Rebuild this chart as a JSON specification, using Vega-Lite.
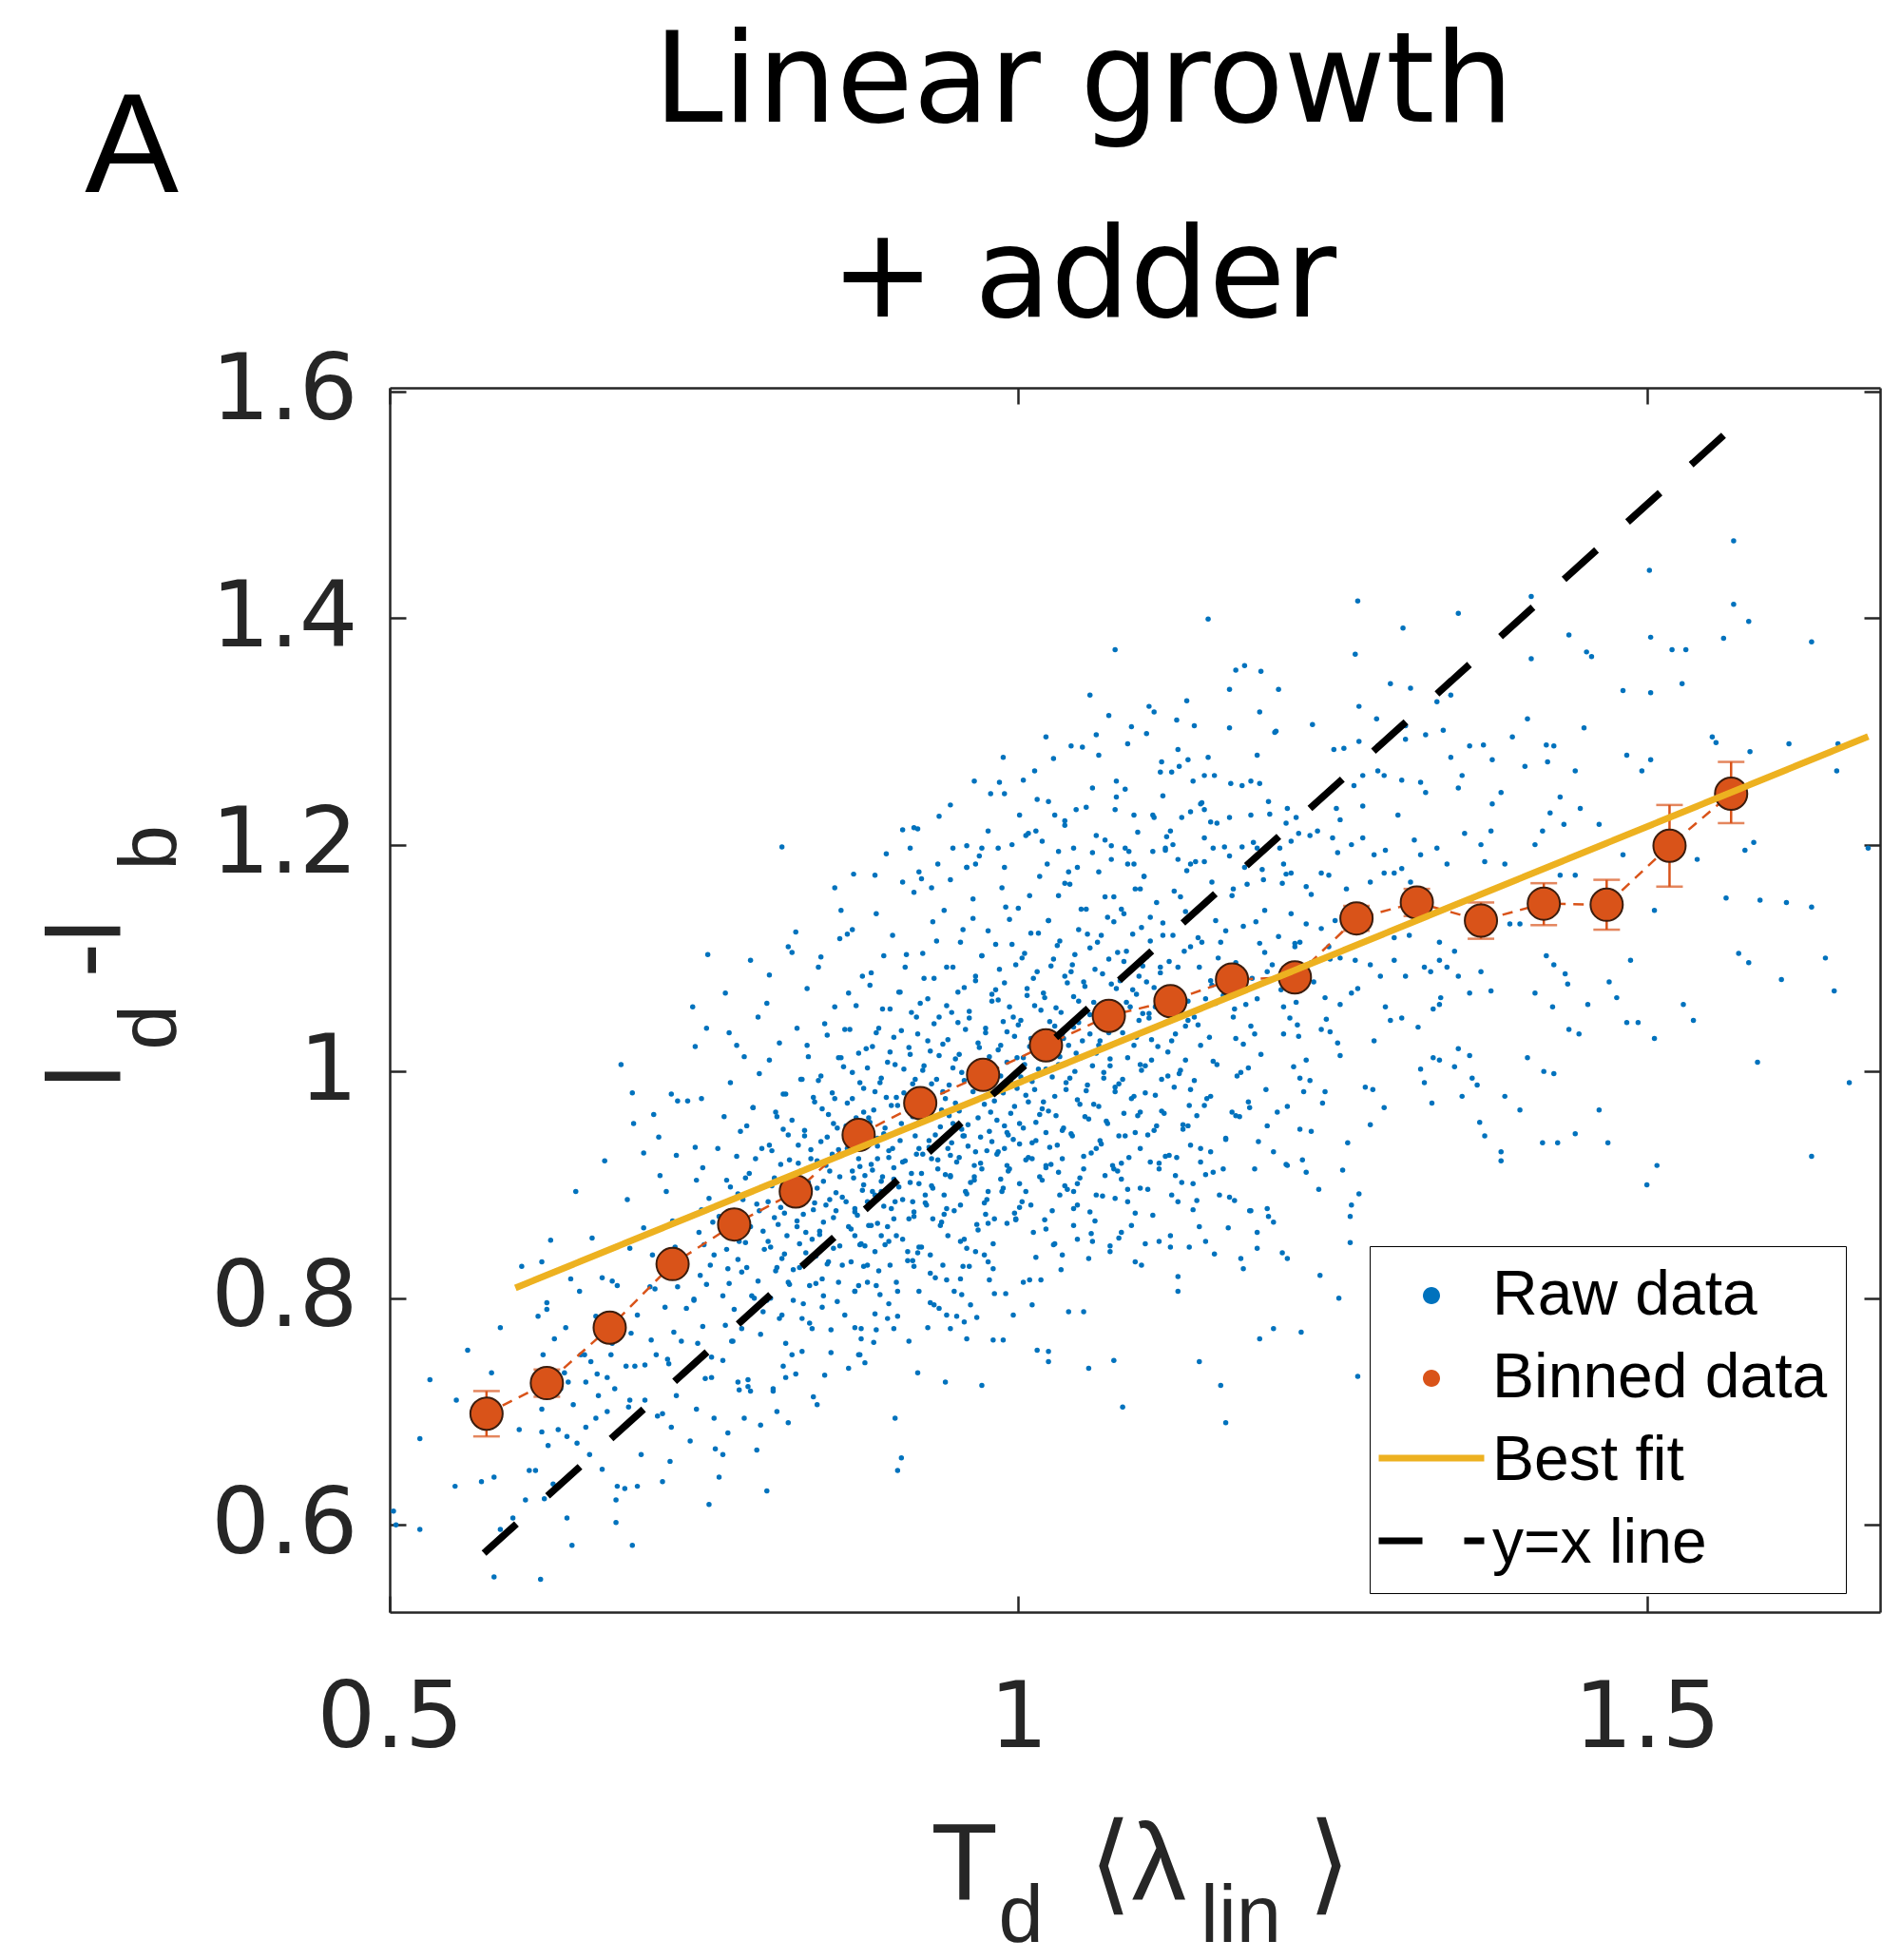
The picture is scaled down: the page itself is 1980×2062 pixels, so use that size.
{
"$schema": "https://vega.github.io/schema/vega-lite/v6.json",
"width": 1568,
"height": 1288,
"autosize": {"type": "none"},
"padding": {"left": 410, "top": 408, "right": 2, "bottom": 366},
"background": "white",
"config": {"view": {"stroke": null}, "font": "Liberation Sans"},
"title": {"text": ["Linear growth", "+ adder"], "font": "DejaVu Sans", "fontSize": 131, "fontWeight": "normal", "color": "#000000", "anchor": "middle", "frame": "group", "dx": -54, "dy": 381, "offset": 0, "baseline": "alphabetic", "lineHeight": 205},
"datasets": {
"raw": [
{"x":0.503,"y":0.612},{"x":0.505,"y":0.600},{"x":0.524,"y":0.676},{"x":0.524,"y":0.596},{"x":0.532,"y":0.728},{"x":0.553,"y":0.710},{"x":0.552,"y":0.634},{"x":0.562,"y":0.754},{"x":0.573,"y":0.638},{"x":0.581,"y":0.734},{"x":0.583,"y":0.642},{"x":0.583,"y":0.554},{"x":0.588,"y":0.774},{"x":0.588,"y":0.596},{"x":0.598,"y":0.606},{"x":0.603,"y":0.684},{"x":0.605,"y":0.828},{"x":0.608,"y":0.622},{"x":0.611,"y":0.648},{"x":0.616,"y":0.648},{"x":0.618,"y":0.784},{"x":0.620,"y":0.552},{"x":0.621,"y":0.832},{"x":0.625,"y":0.796},{"x":0.621,"y":0.702},{"x":0.626,"y":0.670},{"x":0.631,"y":0.764},{"x":0.630,"y":0.636},{"x":0.634,"y":0.684},{"x":0.639,"y":0.734},{"x":0.641,"y":0.678},{"x":0.645,"y":0.582},{"x":0.646,"y":0.706},{"x":0.649,"y":0.672},{"x":0.651,"y":0.806},{"x":0.652,"y":0.750},{"x":0.656,"y":0.726},{"x":0.659,"y":0.662},{"x":0.660,"y":0.744},{"x":0.664,"y":0.694},{"x":0.666,"y":0.714},{"x":0.669,"y":0.818},{"x":0.673,"y":0.730},{"x":0.676,"y":0.750},{"x":0.679,"y":0.720},{"x":0.680,"y":0.622},{"x":0.680,"y":0.602},{"x":0.681,"y":0.634},{"x":0.684,"y":1.006},{"x":0.691,"y":0.710},{"x":0.693,"y":0.582},{"x":0.694,"y":0.954},{"x":0.695,"y":0.740},{"x":0.697,"y":0.634},{"x":0.700,"y":0.662},{"x":0.702,"y":0.928},{"x":0.703,"y":0.710},{"x":0.707,"y":0.810},{"x":0.712,"y":0.750},{"x":0.714,"y":0.942},{"x":0.717,"y":0.698},{"x":0.722,"y":0.742},{"x":0.724,"y":0.686},{"x":0.729,"y":0.974},{"x":0.732,"y":0.762},{"x":0.737,"y":0.974},{"x":0.739,"y":0.674},{"x":0.742,"y":0.798},{"x":0.743,"y":1.022},{"x":0.744,"y":0.702},{"x":0.752,"y":1.038},{"x":0.753,"y":1.103},{"x":0.754,"y":0.618},{"x":0.756,"y":0.730},{"x":0.758,"y":0.694},{"x":0.762,"y":0.642},{"x":0.765,"y":0.662},{"x":0.767,"y":1.069},{"x":0.770,"y":1.034},{"x":0.772,"y":0.762},{"x":0.777,"y":0.726},{"x":0.782,"y":0.694},{"x":0.787,"y":0.718},{"x":0.792,"y":0.666},{"x":0.800,"y":0.630},{"x":0.802,"y":1.085},{"x":0.805,"y":0.718},{"x":0.815,"y":0.730},{"x":0.817,"y":0.690},{"x":0.820,"y":1.105},{"x":0.820,"y":0.750},{"x":0.828,"y":0.782},{"x":0.840,"y":0.706},{"x":0.843,"y":1.101},{"x":0.845,"y":0.802},{"x":0.858,"y":1.117},{"x":0.865,"y":0.738},{"x":0.868,"y":1.125},{"x":0.870,"y":0.774},{"x":0.873,"y":0.750},
{"x":0.812,"y":1.198},{"x":0.854,"y":1.162},{"x":0.886,"y":1.173},{"x":0.920,"y":1.214},{"x":1.270,"y":0.731},{"x":1.240,"y":0.820},{"x":1.255,"y":0.800},{"x":1.225,"y":0.770},{"x":1.210,"y":0.840},{"x":1.676,"y":1.197},
{"x":1.270,"y":1.415},{"x":1.268,"y":1.368},{"x":1.306,"y":1.391},{"x":1.350,"y":1.404},{"x":1.408,"y":1.419},{"x":1.408,"y":1.364},{"x":1.438,"y":1.385},{"x":1.452,"y":1.370},{"x":1.456,"y":1.366},{"x":1.502,"y":1.442},{"x":1.503,"y":1.383},{"x":1.520,"y":1.372},{"x":1.531,"y":1.372},{"x":1.569,"y":1.468},{"x":1.569,"y":1.412},{"x":1.561,"y":1.382},{"x":1.581,"y":1.397},{"x":1.631,"y":1.379},{"x":1.481,"y":1.336},{"x":1.503,"y":1.334},{"x":1.528,"y":1.342},{"x":1.296,"y":1.342},{"x":1.312,"y":1.338},{"x":1.333,"y":1.326},{"x":1.344,"y":1.332},{"x":1.271,"y":1.322},{"x":1.285,"y":1.311},{"x":1.308,"y":1.305},{"x":1.324,"y":1.297},{"x":1.338,"y":1.301},{"x":1.405,"y":1.311},{"x":1.393,"y":1.295},{"x":1.450,"y":1.303},{"x":1.259,"y":1.285},{"x":1.271,"y":1.291},{"x":1.286,"y":1.287},{"x":1.308,"y":1.293},{"x":1.344,"y":1.277},{"x":1.359,"y":1.287},{"x":1.370,"y":1.288},{"x":1.377,"y":1.275},{"x":1.403,"y":1.269},{"x":1.420,"y":1.288},{"x":1.426,"y":1.287},{"x":1.421,"y":1.273},{"x":1.443,"y":1.265},{"x":1.484,"y":1.279},{"x":1.496,"y":1.265},{"x":1.503,"y":1.275},{"x":1.552,"y":1.295},{"x":1.555,"y":1.290},{"x":1.582,"y":1.282},{"x":1.613,"y":1.289},{"x":1.652,"y":1.289},{"x":1.651,"y":1.265},{"x":1.286,"y":1.265},{"x":1.267,"y":1.252},{"x":1.274,"y":1.261},{"x":1.291,"y":1.261},{"x":1.305,"y":1.257},{"x":1.320,"y":1.255},{"x":1.324,"y":1.246},{"x":1.350,"y":1.250},{"x":1.353,"y":1.261},{"x":1.384,"y":1.246},{"x":1.377,"y":1.236},{"x":1.431,"y":1.242},{"x":1.447,"y":1.232},{"x":1.462,"y":1.218},{"x":1.434,"y":1.218},{"x":1.423,"y":1.228},{"x":1.411,"y":1.200},{"x":1.417,"y":1.212},{"x":1.253,"y":1.232},{"x":1.256,"y":1.222},{"x":1.274,"y":1.234},{"x":1.302,"y":1.226},{"x":1.214,"y":1.232},{"x":1.221,"y":1.224},{"x":1.232,"y":1.208},{"x":1.238,"y":1.212},{"x":1.250,"y":1.206},{"x":1.265,"y":1.200},{"x":1.274,"y":1.206},{"x":1.283,"y":1.191},{"x":1.292,"y":1.195},{"x":1.305,"y":1.179},{"x":1.315,"y":1.204},{"x":1.320,"y":1.191},{"x":1.333,"y":1.197},{"x":1.341,"y":1.183},{"x":1.355,"y":1.210},{"x":1.368,"y":1.200},{"x":1.376,"y":1.212},{"x":1.371,"y":1.185},{"x":1.387,"y":1.183},{"x":1.431,"y":1.173},{"x":1.443,"y":1.173},{"x":1.481,"y":1.191},{"x":1.506,"y":1.142},{"x":1.540,"y":1.187},{"x":1.578,"y":1.195},{"x":1.585,"y":1.202},{"x":1.563,"y":1.153},{"x":1.590,"y":1.151},{"x":1.611,"y":1.149},{"x":1.631,"y":1.145},{"x":1.211,"y":1.183},{"x":1.217,"y":1.175},{"x":1.229,"y":1.163},{"x":1.241,"y":1.175},{"x":1.247,"y":1.173},{"x":1.261,"y":1.161},{"x":1.280,"y":1.167},{"x":1.291,"y":1.175},{"x":1.299,"y":1.175},{"x":1.312,"y":1.167},{"x":1.217,"y":1.139},{"x":1.229,"y":1.130},{"x":1.241,"y":1.126},{"x":1.224,"y":1.114},{"x":1.220,"y":1.110},{"x":1.247,"y":1.110},{"x":1.256,"y":1.100},{"x":1.233,"y":1.096},{"x":1.268,"y":1.098},{"x":1.280,"y":1.094},{"x":1.288,"y":1.084},{"x":1.299,"y":1.098},{"x":1.308,"y":1.084},{"x":1.323,"y":1.092},{"x":1.328,"y":1.088},{"x":1.335,"y":1.098},{"x":1.341,"y":1.092},{"x":1.347,"y":1.106},{"x":1.350,"y":1.084},{"x":1.299,"y":1.118},{"x":1.311,"y":1.120},{"x":1.335,"y":1.114},{"x":1.359,"y":1.069},{"x":1.368,"y":1.088},{"x":1.376,"y":1.071},{"x":1.391,"y":1.130},{"x":1.399,"y":1.130},{"x":1.420,"y":1.102},{"x":1.435,"y":1.086},{"x":1.437,"y":1.077},{"x":1.426,"y":1.094},{"x":1.470,"y":1.079},{"x":1.487,"y":1.098},{"x":1.529,"y":1.059},{"x":1.537,"y":1.045},{"x":1.573,"y":1.104},{"x":1.581,"y":1.096},{"x":1.607,"y":1.081},{"x":1.642,"y":1.100},{"x":1.649,"y":1.071},{"x":1.211,"y":1.057},{"x":1.221,"y":1.061},{"x":1.244,"y":1.065},{"x":1.256,"y":1.059},{"x":1.265,"y":1.069},{"x":1.270,"y":1.073},{"x":1.292,"y":1.057},{"x":1.296,"y":1.045},{"x":1.305,"y":1.047},{"x":1.318,"y":1.039},{"x":1.330,"y":1.055},{"x":1.335,"y":1.059},{"x":1.336,"y":1.065},{"x":1.411,"y":1.069},{"x":1.425,"y":1.057},{"x":1.453,"y":1.059},{"x":1.476,"y":1.065},{"x":1.484,"y":1.043},{"x":1.493,"y":1.043},{"x":1.506,"y":1.029},{"x":1.211,"y":1.033},{"x":1.223,"y":1.031},{"x":1.241,"y":1.037},{"x":1.248,"y":1.035},{"x":1.254,"y":1.025},{"x":1.256,"y":1.014},{"x":1.229,"y":1.010},{"x":1.283,"y":1.027},{"x":1.330,"y":1.012},{"x":1.335,"y":1.010},{"x":1.350,"y":1.020},{"x":1.359,"y":1.014},{"x":1.347,"y":1.004},{"x":1.320,"y":1.002},{"x":1.323,"y":0.990},{"x":1.361,"y":0.994},{"x":1.365,"y":0.988},{"x":1.387,"y":0.978},{"x":1.405,"y":1.012},{"x":1.418,"y":1.000},{"x":1.426,"y":0.998},{"x":1.438,"y":1.037},{"x":1.446,"y":1.033},{"x":1.588,"y":1.008},{"x":1.661,"y":0.990},{"x":1.232,"y":0.992},{"x":1.227,"y":0.982},{"x":1.244,"y":0.982},{"x":1.276,"y":0.986},{"x":1.282,"y":0.984},{"x":1.291,"y":0.968},{"x":1.280,"y":0.953},{"x":1.329,"y":0.972},{"x":1.353,"y":0.978},{"x":1.399,"y":0.966},{"x":1.462,"y":0.966},{"x":1.224,"y":0.949},{"x":1.233,"y":0.947},{"x":1.262,"y":0.937},{"x":1.367,"y":0.955},{"x":1.371,"y":0.943},{"x":1.417,"y":0.937},{"x":1.429,"y":0.937},{"x":1.443,"y":0.945},{"x":1.469,"y":0.937},{"x":1.384,"y":0.929},{"x":1.384,"y":0.921},{"x":1.631,"y":0.925},{"x":1.508,"y":0.917},{"x":1.500,"y":0.900},{"x":1.214,"y":0.917},{"x":1.229,"y":0.911},{"x":1.258,"y":0.913},{"x":1.239,"y":0.896},{"x":1.265,"y":0.882},{"x":1.271,"y":0.892},{"x":1.264,"y":0.872},{"x":1.264,"y":0.849},
{"x":0.875,"y":0.773},{"x":0.887,"y":0.772},{"x":0.901,"y":0.773},{"x":0.886,"y":0.786},{"x":0.897,"y":0.795},{"x":0.874,"y":0.750},{"x":0.920,"y":0.734},{"x":0.942,"y":0.726},{"x":0.971,"y":0.723},{"x":0.902,"y":0.694},{"x":0.907,"y":0.659},{"x":0.904,"y":0.648},{"x":0.921,"y":0.806},{"x":0.933,"y":0.794},{"x":0.937,"y":0.791},{"x":0.943,"y":0.785},{"x":0.946,"y":0.773},{"x":0.955,"y":0.803},{"x":0.957,"y":0.779},{"x":0.967,"y":0.783},{"x":0.959,"y":0.764},{"x":0.981,"y":0.804},{"x":0.980,"y":0.763},{"x":0.988,"y":0.763},{"x":0.996,"y":0.785},{"x":1.011,"y":0.794},{"x":1.009,"y":0.816},{"x":1.018,"y":0.816},{"x":1.015,"y":0.754},{"x":1.024,"y":0.753},{"x":1.024,"y":0.744},{"x":1.040,"y":0.788},{"x":1.052,"y":0.788},{"x":1.056,"y":0.738},{"x":1.076,"y":0.745},{"x":1.083,"y":0.704},{"x":1.127,"y":0.819},{"x":1.127,"y":0.806},{"x":1.144,"y":0.744},{"x":1.161,"y":0.723},{"x":1.165,"y":0.690},{"x":1.192,"y":0.764},{"x":1.203,"y":0.773},{"x":1.214,"y":0.835},{"x":1.177,"y":0.835},{"x":1.179,"y":0.826},{"x":1.190,"y":0.844},{"x":1.190,"y":0.858},{"x":1.185,"y":0.877},{"x":1.198,"y":0.879},{"x":1.199,"y":0.872},{"x":1.156,"y":0.839},{"x":1.149,"y":0.850},{"x":1.136,"y":0.845},{"x":1.121,"y":0.845},{"x":1.098,"y":0.829},{"x":1.093,"y":0.832},{"x":1.101,"y":0.848},{"x":1.090,"y":0.864},{"x":1.073,"y":0.841},{"x":1.059,"y":0.850},{"x":1.035,"y":0.838},{"x":1.029,"y":0.848},{"x":1.047,"y":0.852},{"x":1.044,"y":0.864},{"x":1.022,"y":0.861},{"x":1.027,"y":0.877},{"x":1.010,"y":0.882},{"x":1.006,"y":0.894},{"x":1.001,"y":0.901},{"x":0.991,"y":0.866},{"x":0.998,"y":0.869},{"x":0.981,"y":0.870},{"x":0.976,"y":0.866},{"x":0.974,"y":0.874},{"x":0.957,"y":0.852},{"x":0.959,"y":0.844},{"x":0.966,"y":0.841},{"x":0.976,"y":0.832},{"x":0.961,"y":0.828},{"x":0.954,"y":0.817},{"x":0.930,"y":0.822},{"x":0.943,"y":0.816},{"x":0.940,"y":0.829},{"x":0.930,"y":0.838},{"x":0.912,"y":0.841},{"x":0.916,"y":0.833},{"x":0.923,"y":0.845},{"x":0.903,"y":0.814},{"x":0.898,"y":0.829},{"x":0.880,"y":0.814},{"x":0.887,"y":0.811},{"x":0.877,"y":0.828},{"x":0.870,"y":0.806},{"x":0.874,"y":0.847},{"x":0.886,"y":0.841},{"x":0.891,"y":0.855},{"x":0.896,"y":0.863},{"x":0.901,"y":0.870},{"x":0.917,"y":0.876},{"x":0.932,"y":0.870},{"x":0.943,"y":0.879},{"x":0.954,"y":0.882},{"x":0.916,"y":0.885},{"x":0.926,"y":0.891},{"x":0.921,"y":0.901},{"x":0.941,"y":0.891},{"x":0.946,"y":0.908},{"x":0.965,"y":0.907},{"x":0.971,"y":0.914},{"x":0.976,"y":0.894},{"x":0.986,"y":0.905},{"x":0.991,"y":0.917},{"x":0.989,"y":0.932},{"x":1.001,"y":0.936},{"x":1.011,"y":0.923},{"x":1.022,"y":0.917},{"x":1.032,"y":0.911},{"x":1.037,"y":0.899},{"x":1.044,"y":0.894},{"x":1.047,"y":0.882},{"x":1.057,"y":0.876},{"x":1.062,"y":0.891},{"x":1.069,"y":0.908},{"x":1.076,"y":0.914},{"x":1.082,"y":0.905},{"x":1.087,"y":0.896},{"x":1.087,"y":0.885},{"x":1.077,"y":0.888},{"x":1.082,"y":0.858},{"x":1.097,"y":0.932},{"x":1.105,"y":0.920},{"x":1.112,"y":0.914},{"x":1.120,"y":0.926},{"x":1.125,"y":0.908},{"x":1.127,"y":0.885},{"x":1.122,"y":0.891},{"x":1.130,"y":0.902},{"x":1.137,"y":0.935},{"x":1.145,"y":0.920},{"x":1.153,"y":0.929},{"x":1.155,"y":0.911},{"x":1.163,"y":0.914},{"x":1.160,"y":0.891},{"x":1.168,"y":0.889},{"x":1.165,"y":0.941},{"x":1.173,"y":0.961},{"x":1.184,"y":0.877},{"x":1.198,"y":0.952},{"x":1.203,"y":0.929},{"x":1.206,"y":0.964},{"x":1.213,"y":0.918},{"x":1.183,"y":0.973},{"x":1.148,"y":0.970},{"x":1.135,"y":0.952},{"x":1.110,"y":0.952},{"x":1.097,"y":0.964},{"x":1.080,"y":0.943},{"x":1.062,"y":0.932},{"x":1.052,"y":0.914},{"x":1.035,"y":0.923},{"x":1.022,"y":0.946},{"x":1.014,"y":0.955},{"x":0.991,"y":0.946},{"x":0.979,"y":0.938},{"x":0.966,"y":0.929},{"x":0.956,"y":0.943},{"x":0.946,"y":0.926},{"x":0.931,"y":0.923},{"x":0.921,"y":0.932},{"x":0.908,"y":0.920},{"x":0.901,"y":0.905},{"x":0.891,"y":0.894},{"x":0.880,"y":0.885},{"x":0.870,"y":0.879},{"x":0.878,"y":0.908},{"x":0.888,"y":0.923},{"x":0.883,"y":0.864},{"x":0.870,"y":0.855},
{"x":1.151,"y":1.399},{"x":1.077,"y":1.372},{"x":1.193,"y":1.353},{"x":1.057,"y":1.332},{"x":1.168,"y":1.337},{"x":1.207,"y":1.337},{"x":1.072,"y":1.314},{"x":1.108,"y":1.317},{"x":1.126,"y":1.310},{"x":1.140,"y":1.305},{"x":1.168,"y":1.303},{"x":1.192,"y":1.317},{"x":1.205,"y":1.300},{"x":1.022,"y":1.295},{"x":1.042,"y":1.287},{"x":1.064,"y":1.279},{"x":1.087,"y":1.289},{"x":1.102,"y":1.298},{"x":1.127,"y":1.284},{"x":1.135,"y":1.275},{"x":1.190,"y":1.279},{"x":0.988,"y":1.277},{"x":0.965,"y":1.256},{"x":1.004,"y":1.257},{"x":1.015,"y":1.240},{"x":1.024,"y":1.238},{"x":1.059,"y":1.250},{"x":1.078,"y":1.256},{"x":1.114,"y":1.273},{"x":1.122,"y":1.264},{"x":1.139,"y":1.256},{"x":1.148,"y":1.261},{"x":1.156,"y":1.261},{"x":1.169,"y":1.254},{"x":1.192,"y":1.254},{"x":0.989,"y":1.245},{"x":1.001,"y":1.226},{"x":1.014,"y":1.212},{"x":1.029,"y":1.226},{"x":1.037,"y":1.217},{"x":1.054,"y":1.233},{"x":1.077,"y":1.231},{"x":1.092,"y":1.226},{"x":1.107,"y":1.226},{"x":1.115,"y":1.243},{"x":1.130,"y":1.224},{"x":1.145,"y":1.236},{"x":1.148,"y":1.231},{"x":1.158,"y":1.219},{"x":1.168,"y":1.224},{"x":1.185,"y":1.226},{"x":1.200,"y":1.227},{"x":1.213,"y":1.219},{"x":0.917,"y":1.215},{"x":0.914,"y":1.197},{"x":0.908,"y":1.167},{"x":0.948,"y":1.197},{"x":0.959,"y":1.199},{"x":0.976,"y":1.212},{"x":0.971,"y":1.197},{"x":0.984,"y":1.197},{"x":0.989,"y":1.180},{"x":1.006,"y":1.208},{"x":1.019,"y":1.203},{"x":1.032,"y":1.194},{"x":1.044,"y":1.197},{"x":1.047,"y":1.180},{"x":1.062,"y":1.208},{"x":1.074,"y":1.199},{"x":1.085,"y":1.197},{"x":1.092,"y":1.183},{"x":1.107,"y":1.194},{"x":1.117,"y":1.197},{"x":1.127,"y":1.187},{"x":1.137,"y":1.183},{"x":1.148,"y":1.206},{"x":1.155,"y":1.197},{"x":1.168,"y":1.190},{"x":1.180,"y":1.180},{"x":1.190,"y":1.197},{"x":1.208,"y":1.197},{"x":1.195,"y":1.169},{"x":1.213,"y":1.174},{"x":0.946,"y":1.169},{"x":0.959,"y":1.180},{"x":0.966,"y":1.183},{"x":0.931,"y":1.162},{"x":0.921,"y":1.176},{"x":0.936,"y":1.183},
{"x":0.623,"y":0.623},{"x":0.621,"y":0.682},{"x":0.636,"y":0.720},{"x":0.622,"y":0.750},{"x":0.625,"y":0.790},{"x":0.628,"y":0.851},
{"x":0.641,"y":0.606},{"x":0.656,"y":0.686},{"x":0.642,"y":0.726},{"x":0.655,"y":0.750},{"x":0.640,"y":0.774},{"x":0.644,"y":0.817},{"x":0.648,"y":0.894},
{"x":0.669,"y":0.649},{"x":0.673,"y":0.700},{"x":0.665,"y":0.733},{"x":0.677,"y":0.760},{"x":0.664,"y":0.784},{"x":0.677,"y":0.815},{"x":0.661,"y":0.853},{"x":0.671,"y":0.921},
{"x":0.687,"y":0.632},{"x":0.690,"y":0.704},{"x":0.688,"y":0.740},{"x":0.692,"y":0.769},{"x":0.697,"y":0.785},{"x":0.681,"y":0.811},{"x":0.691,"y":0.844},{"x":0.689,"y":0.887},{"x":0.693,"y":0.981},
{"x":0.717,"y":0.638},{"x":0.713,"y":0.696},{"x":0.703,"y":0.741},{"x":0.708,"y":0.763},{"x":0.719,"y":0.792},{"x":0.711,"y":0.808},{"x":0.709,"y":0.838},{"x":0.702,"y":0.862},{"x":0.715,"y":0.908},{"x":0.710,"y":0.962},
{"x":0.723,"y":0.656},{"x":0.728,"y":0.714},{"x":0.721,"y":0.746},{"x":0.726,"y":0.770},{"x":0.736,"y":0.791},{"x":0.729,"y":0.810},{"x":0.722,"y":0.826},{"x":0.727,"y":0.845},{"x":0.725,"y":0.868},{"x":0.720,"y":0.894},{"x":0.728,"y":0.926},{"x":0.724,"y":0.980},
{"x":0.759,"y":0.667},{"x":0.751,"y":0.729},{"x":0.756,"y":0.748},{"x":0.749,"y":0.775},{"x":0.742,"y":0.799},{"x":0.747,"y":0.820},{"x":0.755,"y":0.829},{"x":0.750,"y":0.847},{"x":0.757,"y":0.867},{"x":0.748,"y":0.878},{"x":0.744,"y":0.904},{"x":0.743,"y":0.933},{"x":0.748,"y":0.976},{"x":0.741,"y":1.057},
{"x":0.769,"y":0.681},{"x":0.778,"y":0.719},{"x":0.773,"y":0.762},{"x":0.767,"y":0.776},{"x":0.765,"y":0.802},{"x":0.770,"y":0.813},{"x":0.777,"y":0.834},{"x":0.768,"y":0.843},{"x":0.764,"y":0.861},{"x":0.772,"y":0.870},{"x":0.777,"y":0.892},{"x":0.768,"y":0.904},{"x":0.761,"y":0.932},{"x":0.779,"y":0.947},{"x":0.771,"y":0.990},{"x":0.776,"y":1.023},
{"x":0.795,"y":0.688},{"x":0.785,"y":0.728},{"x":0.780,"y":0.773},{"x":0.797,"y":0.788},{"x":0.788,"y":0.802},{"x":0.793,"y":0.815},{"x":0.784,"y":0.827},{"x":0.783,"y":0.849},{"x":0.797,"y":0.859},{"x":0.794,"y":0.877},{"x":0.781,"y":0.887},{"x":0.786,"y":0.910},{"x":0.791,"y":0.923},{"x":0.784,"y":0.952},{"x":0.789,"y":0.968},{"x":0.782,"y":1.013},{"x":0.793,"y":1.048},{"x":0.787,"y":1.098},
{"x":0.808,"y":0.700},{"x":0.813,"y":0.740},{"x":0.812,"y":0.785},{"x":0.803,"y":0.800},{"x":0.817,"y":0.814},{"x":0.808,"y":0.827},{"x":0.814,"y":0.839},{"x":0.801,"y":0.850},{"x":0.806,"y":0.871},{"x":0.811,"y":0.880},{"x":0.816,"y":0.889},{"x":0.804,"y":0.899},{"x":0.818,"y":0.922},{"x":0.802,"y":0.935},{"x":0.813,"y":0.949},{"x":0.807,"y":0.964},{"x":0.815,"y":0.980},{"x":0.810,"y":1.025},{"x":0.800,"y":1.060},{"x":0.817,"y":1.110},
{"x":0.837,"y":0.713},{"x":0.828,"y":0.753},{"x":0.834,"y":0.778},{"x":0.821,"y":0.798},{"x":0.839,"y":0.813},{"x":0.826,"y":0.827},{"x":0.831,"y":0.840},{"x":0.836,"y":0.852},{"x":0.824,"y":0.863},{"x":0.829,"y":0.874},{"x":0.838,"y":0.884},{"x":0.833,"y":0.902},{"x":0.827,"y":0.912},{"x":0.835,"y":0.923},{"x":0.825,"y":0.935},{"x":0.830,"y":0.948},{"x":0.837,"y":0.977},{"x":0.828,"y":0.993},{"x":0.833,"y":1.013},{"x":0.824,"y":1.038},{"x":0.832,"y":1.073},{"x":0.823,"y":1.123},
{"x":0.846,"y":0.732},{"x":0.851,"y":0.772},{"x":0.856,"y":0.797},{"x":0.844,"y":0.817},{"x":0.849,"y":0.832},{"x":0.858,"y":0.846},{"x":0.842,"y":0.859},{"x":0.853,"y":0.871},{"x":0.847,"y":0.882},{"x":0.855,"y":0.893},{"x":0.845,"y":0.903},{"x":0.850,"y":0.912},{"x":0.840,"y":0.921},{"x":0.857,"y":0.931},{"x":0.848,"y":0.942},{"x":0.853,"y":0.954},{"x":0.844,"y":0.967},{"x":0.852,"y":0.981},{"x":0.843,"y":0.996},{"x":0.857,"y":1.012},{"x":0.848,"y":1.032},{"x":0.854,"y":1.057},{"x":0.841,"y":1.092},{"x":0.859,"y":1.142},
{"x":0.878,"y":0.743},{"x":0.862,"y":0.785},{"x":0.873,"y":0.811},{"x":0.867,"y":0.832},{"x":0.875,"y":0.848},{"x":0.865,"y":0.863},{"x":0.870,"y":0.876},{"x":0.860,"y":0.889},{"x":0.877,"y":0.900},{"x":0.868,"y":0.912},{"x":0.873,"y":0.923},{"x":0.864,"y":0.932},{"x":0.872,"y":0.941},{"x":0.863,"y":0.952},{"x":0.877,"y":0.964},{"x":0.868,"y":0.976},{"x":0.874,"y":0.990},{"x":0.861,"y":1.004},{"x":0.879,"y":1.020},{"x":0.866,"y":1.037},{"x":0.871,"y":1.058},{"x":0.876,"y":1.084},{"x":0.864,"y":1.121},{"x":0.869,"y":1.174},
{"x":0.885,"y":0.761},{"x":0.890,"y":0.803},{"x":0.880,"y":0.829},{"x":0.897,"y":0.850},{"x":0.888,"y":0.866},{"x":0.893,"y":0.881},{"x":0.884,"y":0.894},{"x":0.892,"y":0.907},{"x":0.883,"y":0.918},{"x":0.897,"y":0.930},{"x":0.888,"y":0.941},{"x":0.894,"y":0.950},{"x":0.881,"y":0.959},{"x":0.899,"y":0.970},{"x":0.886,"y":0.982},{"x":0.891,"y":0.994},{"x":0.896,"y":1.008},{"x":0.884,"y":1.022},{"x":0.889,"y":1.038},{"x":0.898,"y":1.055},{"x":0.882,"y":1.076},{"x":0.893,"y":1.102},{"x":0.887,"y":1.139},{"x":0.895,"y":1.192},
{"x":0.913,"y":0.762},{"x":0.904,"y":0.806},{"x":0.912,"y":0.833},{"x":0.903,"y":0.855},{"x":0.917,"y":0.872},{"x":0.908,"y":0.887},{"x":0.914,"y":0.902},{"x":0.901,"y":0.915},{"x":0.919,"y":0.927},{"x":0.906,"y":0.939},{"x":0.911,"y":0.950},{"x":0.916,"y":0.960},{"x":0.904,"y":0.970},{"x":0.909,"y":0.981},{"x":0.918,"y":0.993},{"x":0.902,"y":1.006},{"x":0.913,"y":1.021},{"x":0.907,"y":1.036},{"x":0.915,"y":1.052},{"x":0.905,"y":1.070},{"x":0.910,"y":1.092},{"x":0.900,"y":1.120},{"x":0.917,"y":1.158},{"x":0.908,"y":1.213},
{"x":0.928,"y":0.774},{"x":0.934,"y":0.818},{"x":0.921,"y":0.845},{"x":0.939,"y":0.867},{"x":0.926,"y":0.884},{"x":0.931,"y":0.899},{"x":0.936,"y":0.914},{"x":0.924,"y":0.927},{"x":0.929,"y":0.939},{"x":0.938,"y":0.951},{"x":0.922,"y":0.962},{"x":0.933,"y":0.972},{"x":0.927,"y":0.982},{"x":0.935,"y":0.993},{"x":0.925,"y":1.005},{"x":0.930,"y":1.018},{"x":0.920,"y":1.033},{"x":0.937,"y":1.048},{"x":0.928,"y":1.064},{"x":0.933,"y":1.082},{"x":0.924,"y":1.104},{"x":0.932,"y":1.132},{"x":0.923,"y":1.170},{"x":0.937,"y":1.225},
{"x":0.951,"y":0.784},{"x":0.956,"y":0.828},{"x":0.944,"y":0.855},{"x":0.949,"y":0.877},{"x":0.958,"y":0.894},{"x":0.942,"y":0.909},{"x":0.953,"y":0.924},{"x":0.947,"y":0.937},{"x":0.955,"y":0.949},{"x":0.945,"y":0.961},{"x":0.950,"y":0.972},{"x":0.940,"y":0.982},{"x":0.957,"y":0.992},{"x":0.948,"y":1.003},{"x":0.953,"y":1.015},{"x":0.944,"y":1.028},{"x":0.952,"y":1.043},{"x":0.943,"y":1.058},{"x":0.957,"y":1.074},{"x":0.948,"y":1.092},{"x":0.954,"y":1.114},{"x":0.941,"y":1.142},{"x":0.959,"y":1.180},{"x":0.946,"y":1.235},
{"x":0.962,"y":0.794},{"x":0.973,"y":0.838},{"x":0.967,"y":0.865},{"x":0.975,"y":0.887},{"x":0.965,"y":0.904},{"x":0.970,"y":0.919},{"x":0.960,"y":0.934},{"x":0.977,"y":0.947},{"x":0.968,"y":0.959},{"x":0.973,"y":0.971},{"x":0.964,"y":0.982},{"x":0.972,"y":0.992},{"x":0.963,"y":1.002},{"x":0.977,"y":1.013},{"x":0.968,"y":1.025},{"x":0.974,"y":1.038},{"x":0.961,"y":1.053},{"x":0.979,"y":1.068},{"x":0.966,"y":1.084},{"x":0.971,"y":1.102},{"x":0.976,"y":1.124},{"x":0.964,"y":1.152},{"x":0.969,"y":1.190},{"x":0.978,"y":1.245},
{"x":0.990,"y":0.804},{"x":0.980,"y":0.848},{"x":0.997,"y":0.875},{"x":0.988,"y":0.897},{"x":0.993,"y":0.914},{"x":0.984,"y":0.929},{"x":0.992,"y":0.944},{"x":0.983,"y":0.957},{"x":0.997,"y":0.969},{"x":0.988,"y":0.981},{"x":0.994,"y":0.992},{"x":0.981,"y":1.002},{"x":0.999,"y":1.012},{"x":0.986,"y":1.023},{"x":0.991,"y":1.035},{"x":0.996,"y":1.048},{"x":0.984,"y":1.063},{"x":0.989,"y":1.078},{"x":0.998,"y":1.094},{"x":0.982,"y":1.112},{"x":0.993,"y":1.134},{"x":0.987,"y":1.162},{"x":0.995,"y":1.200},{"x":0.985,"y":1.255},
{"x":1.004,"y":0.814},{"x":1.012,"y":0.858},{"x":1.003,"y":0.885},{"x":1.017,"y":0.907},{"x":1.008,"y":0.924},{"x":1.014,"y":0.939},{"x":1.001,"y":0.954},{"x":1.019,"y":0.967},{"x":1.006,"y":0.979},{"x":1.011,"y":0.991},{"x":1.016,"y":1.002},{"x":1.004,"y":1.012},{"x":1.009,"y":1.022},{"x":1.018,"y":1.033},{"x":1.002,"y":1.045},{"x":1.013,"y":1.058},{"x":1.007,"y":1.073},{"x":1.015,"y":1.088},{"x":1.005,"y":1.104},{"x":1.010,"y":1.122},{"x":1.000,"y":1.144},{"x":1.017,"y":1.172},{"x":1.008,"y":1.210},{"x":1.013,"y":1.265},
{"x":1.034,"y":0.825},{"x":1.021,"y":0.869},{"x":1.039,"y":0.896},{"x":1.026,"y":0.918},{"x":1.031,"y":0.935},{"x":1.036,"y":0.950},{"x":1.024,"y":0.965},{"x":1.029,"y":0.978},{"x":1.038,"y":0.990},{"x":1.022,"y":1.002},{"x":1.033,"y":1.013},{"x":1.027,"y":1.023},{"x":1.035,"y":1.033},{"x":1.025,"y":1.044},{"x":1.030,"y":1.056},{"x":1.020,"y":1.069},{"x":1.037,"y":1.084},{"x":1.028,"y":1.099},{"x":1.033,"y":1.115},{"x":1.024,"y":1.133},{"x":1.032,"y":1.155},{"x":1.023,"y":1.183},{"x":1.037,"y":1.221},{"x":1.028,"y":1.276},
{"x":1.056,"y":0.835},{"x":1.044,"y":0.879},{"x":1.049,"y":0.906},{"x":1.058,"y":0.928},{"x":1.042,"y":0.945},{"x":1.053,"y":0.960},{"x":1.047,"y":0.975},{"x":1.055,"y":0.988},{"x":1.045,"y":1.000},{"x":1.050,"y":1.012},{"x":1.040,"y":1.023},{"x":1.057,"y":1.033},{"x":1.048,"y":1.043},{"x":1.053,"y":1.054},{"x":1.044,"y":1.066},{"x":1.052,"y":1.079},{"x":1.043,"y":1.094},{"x":1.057,"y":1.109},{"x":1.048,"y":1.125},{"x":1.054,"y":1.143},{"x":1.041,"y":1.165},{"x":1.059,"y":1.193},{"x":1.046,"y":1.231},{"x":1.051,"y":1.286},
{"x":1.073,"y":0.846},{"x":1.067,"y":0.890},{"x":1.075,"y":0.917},{"x":1.065,"y":0.939},{"x":1.070,"y":0.956},{"x":1.060,"y":0.971},{"x":1.077,"y":0.986},{"x":1.068,"y":0.999},{"x":1.073,"y":1.011},{"x":1.064,"y":1.023},{"x":1.072,"y":1.034},{"x":1.077,"y":1.054},{"x":1.074,"y":1.077},{"x":1.061,"y":1.090},{"x":1.079,"y":1.105},{"x":1.066,"y":1.120},{"x":1.071,"y":1.136},{"x":1.076,"y":1.154},{"x":1.064,"y":1.176},{"x":1.069,"y":1.204},{"x":1.078,"y":1.242},{"x":1.062,"y":1.297},
{"x":1.080,"y":0.853},{"x":1.097,"y":0.897},{"x":1.088,"y":0.924},{"x":1.093,"y":0.946},{"x":1.084,"y":0.963},{"x":1.092,"y":0.978},{"x":1.083,"y":0.993},{"x":1.097,"y":1.006},{"x":1.094,"y":1.030},{"x":1.081,"y":1.041},{"x":1.099,"y":1.051},{"x":1.086,"y":1.061},{"x":1.091,"y":1.072},{"x":1.096,"y":1.084},{"x":1.084,"y":1.097},{"x":1.098,"y":1.127},{"x":1.082,"y":1.143},{"x":1.093,"y":1.161},{"x":1.087,"y":1.183},{"x":1.095,"y":1.211},{"x":1.085,"y":1.249},{"x":1.090,"y":1.304},
{"x":1.112,"y":0.850},{"x":1.103,"y":0.896},{"x":1.117,"y":0.925},{"x":1.108,"y":0.948},{"x":1.114,"y":0.965},{"x":1.101,"y":0.981},{"x":1.119,"y":0.996},{"x":1.106,"y":1.010},{"x":1.111,"y":1.022},{"x":1.104,"y":1.047},{"x":1.109,"y":1.057},{"x":1.102,"y":1.079},{"x":1.113,"y":1.092},{"x":1.115,"y":1.120},{"x":1.105,"y":1.136},{"x":1.100,"y":1.172},{"x":1.117,"y":1.195},{"x":1.108,"y":1.224},{"x":1.113,"y":1.264},{"x":1.104,"y":1.322},
{"x":1.121,"y":0.855},{"x":1.139,"y":0.901},{"x":1.131,"y":0.953},{"x":1.136,"y":0.970},{"x":1.124,"y":0.986},{"x":1.129,"y":1.001},{"x":1.122,"y":1.027},{"x":1.133,"y":1.040},{"x":1.135,"y":1.062},{"x":1.125,"y":1.072},{"x":1.120,"y":1.097},{"x":1.137,"y":1.110},{"x":1.133,"y":1.141},{"x":1.124,"y":1.159},{"x":1.123,"y":1.200},{"x":1.137,"y":1.229},{"x":1.128,"y":1.269},{"x":1.134,"y":1.327},
{"x":1.144,"y":0.863},{"x":1.149,"y":0.909},{"x":1.142,"y":0.961},{"x":1.153,"y":0.978},{"x":1.155,"y":1.009},{"x":1.145,"y":1.023},{"x":1.140,"y":1.048},{"x":1.157,"y":1.060},{"x":1.153,"y":1.080},{"x":1.144,"y":1.092},{"x":1.143,"y":1.118},{"x":1.157,"y":1.133},{"x":1.154,"y":1.167},{"x":1.141,"y":1.185},{"x":1.146,"y":1.237},{"x":1.151,"y":1.277},
{"x":1.167,"y":0.862},{"x":1.165,"y":0.940},{"x":1.170,"y":0.964},{"x":1.177,"y":0.999},{"x":1.173,"y":1.029},{"x":1.172,"y":1.055},{"x":1.163,"y":1.067},{"x":1.168,"y":1.089},{"x":1.161,"y":1.114},{"x":1.179,"y":1.128},{"x":1.171,"y":1.161},{"x":1.164,"y":1.198},{"x":1.178,"y":1.252},{"x":1.173,"y":1.354},
{"x":1.188,"y":0.914},{"x":1.184,"y":0.968},{"x":1.183,"y":1.003},{"x":1.188,"y":1.033},{"x":1.181,"y":1.059},{"x":1.186,"y":1.082},{"x":1.196,"y":1.105},{"x":1.189,"y":1.132},{"x":1.182,"y":1.165},{"x":1.187,"y":1.202},{"x":1.185,"y":1.256},{"x":1.180,"y":1.358},
{"x":1.203,"y":0.867},{"x":1.214,"y":0.969},{"x":1.219,"y":1.004},{"x":1.216,"y":1.047},{"x":1.209,"y":1.072},{"x":1.202,"y":1.094},{"x":1.207,"y":1.119},{"x":1.210,"y":1.166},{"x":1.217,"y":1.203},{"x":1.204,"y":1.299},
{"x":1.226,"y":0.922},{"x":1.224,"y":0.994},{"x":1.222,"y":1.041},{"x":1.235,"y":1.079},{"x":1.220,"y":1.113},{"x":1.233,"y":1.156},{"x":1.223,"y":1.210},{"x":1.234,"y":1.306},
{"x":1.242,"y":0.972},{"x":1.245,"y":1.046},{"x":1.248,"y":1.099},{"x":1.252,"y":1.133},{"x":1.254,"y":1.193},{"x":1.251,"y":1.284},
{"x":0.805,"y":0.720},{"x":0.815,"y":0.760},{"x":0.810,"y":0.782},{"x":0.800,"y":0.798},{"x":0.818,"y":0.812},{"x":0.807,"y":0.824},{"x":0.812,"y":0.835},{"x":0.803,"y":0.845},{"x":0.816,"y":0.855},{"x":0.809,"y":0.865},{"x":0.814,"y":0.875},{"x":0.801,"y":0.885},{"x":0.819,"y":0.895},{"x":0.806,"y":0.906},{"x":0.811,"y":0.918},{"x":0.804,"y":0.930},{"x":0.817,"y":0.944},{"x":0.808,"y":0.960},{"x":0.813,"y":0.980},{"x":0.802,"y":1.010},
{"x":0.823,"y":0.733},{"x":0.836,"y":0.773},{"x":0.829,"y":0.795},{"x":0.834,"y":0.811},{"x":0.821,"y":0.825},{"x":0.839,"y":0.837},{"x":0.826,"y":0.848},{"x":0.831,"y":0.858},{"x":0.824,"y":0.868},{"x":0.837,"y":0.878},{"x":0.828,"y":0.888},{"x":0.833,"y":0.898},{"x":0.822,"y":0.908},{"x":0.825,"y":0.919},{"x":0.835,"y":0.931},{"x":0.830,"y":0.943},{"x":0.820,"y":0.957},{"x":0.838,"y":0.973},{"x":0.827,"y":0.993},{"x":0.832,"y":1.023},
{"x":0.851,"y":0.752},{"x":0.844,"y":0.792},{"x":0.857,"y":0.814},{"x":0.848,"y":0.830},{"x":0.853,"y":0.844},{"x":0.842,"y":0.856},{"x":0.845,"y":0.867},{"x":0.855,"y":0.877},{"x":0.850,"y":0.887},{"x":0.840,"y":0.897},{"x":0.858,"y":0.907},{"x":0.847,"y":0.917},{"x":0.852,"y":0.927},{"x":0.843,"y":0.938},{"x":0.856,"y":0.950},{"x":0.849,"y":0.962},{"x":0.854,"y":0.976},{"x":0.841,"y":0.992},{"x":0.859,"y":1.012},{"x":0.846,"y":1.042},
{"x":0.875,"y":0.764},{"x":0.870,"y":0.806},{"x":0.860,"y":0.829},{"x":0.878,"y":0.846},{"x":0.867,"y":0.861},{"x":0.872,"y":0.873},{"x":0.863,"y":0.885},{"x":0.876,"y":0.895},{"x":0.869,"y":0.906},{"x":0.874,"y":0.916},{"x":0.861,"y":0.927},{"x":0.879,"y":0.937},{"x":0.866,"y":0.948},{"x":0.871,"y":0.959},{"x":0.864,"y":0.972},{"x":0.877,"y":0.985},{"x":0.868,"y":0.999},{"x":0.873,"y":1.016},{"x":0.862,"y":1.037},{"x":0.865,"y":1.069},
{"x":0.896,"y":0.782},{"x":0.889,"y":0.824},{"x":0.894,"y":0.847},{"x":0.881,"y":0.864},{"x":0.899,"y":0.879},{"x":0.886,"y":0.891},{"x":0.891,"y":0.903},{"x":0.884,"y":0.913},{"x":0.897,"y":0.924},{"x":0.888,"y":0.934},{"x":0.893,"y":0.945},{"x":0.882,"y":0.955},{"x":0.885,"y":0.966},{"x":0.895,"y":0.977},{"x":0.890,"y":0.990},{"x":0.880,"y":1.003},{"x":0.898,"y":1.017},{"x":0.887,"y":1.034},{"x":0.892,"y":1.055},{"x":0.883,"y":1.087},
{"x":0.904,"y":0.784},{"x":0.917,"y":0.828},{"x":0.908,"y":0.852},{"x":0.913,"y":0.870},{"x":0.902,"y":0.885},{"x":0.905,"y":0.898},{"x":0.915,"y":0.910},{"x":0.910,"y":0.921},{"x":0.900,"y":0.932},{"x":0.918,"y":0.943},{"x":0.907,"y":0.954},{"x":0.912,"y":0.966},{"x":0.903,"y":0.977},{"x":0.916,"y":0.989},{"x":0.909,"y":1.002},{"x":0.914,"y":1.015},{"x":0.901,"y":1.030},{"x":0.919,"y":1.048},{"x":0.906,"y":1.070},{"x":0.911,"y":1.103},
{"x":0.930,"y":0.796},{"x":0.920,"y":0.840},{"x":0.938,"y":0.864},{"x":0.927,"y":0.882},{"x":0.932,"y":0.897},{"x":0.923,"y":0.910},{"x":0.936,"y":0.922},{"x":0.929,"y":0.933},{"x":0.934,"y":0.944},{"x":0.921,"y":0.955},{"x":0.939,"y":0.966},{"x":0.926,"y":0.978},{"x":0.931,"y":0.989},{"x":0.924,"y":1.001},{"x":0.937,"y":1.014},{"x":0.928,"y":1.027},{"x":0.933,"y":1.042},{"x":0.922,"y":1.060},{"x":0.925,"y":1.082},{"x":0.935,"y":1.115},
{"x":0.949,"y":0.806},{"x":0.954,"y":0.850},{"x":0.941,"y":0.874},{"x":0.959,"y":0.892},{"x":0.946,"y":0.907},{"x":0.951,"y":0.920},{"x":0.944,"y":0.932},{"x":0.957,"y":0.943},{"x":0.948,"y":0.954},{"x":0.953,"y":0.965},{"x":0.942,"y":0.976},{"x":0.945,"y":0.988},{"x":0.955,"y":0.999},{"x":0.950,"y":1.011},{"x":0.940,"y":1.024},{"x":0.958,"y":1.037},{"x":0.947,"y":1.052},{"x":0.952,"y":1.070},{"x":0.943,"y":1.092},{"x":0.956,"y":1.125},
{"x":0.977,"y":0.816},{"x":0.968,"y":0.860},{"x":0.973,"y":0.884},{"x":0.962,"y":0.902},{"x":0.965,"y":0.917},{"x":0.975,"y":0.930},{"x":0.970,"y":0.942},{"x":0.960,"y":0.953},{"x":0.978,"y":0.964},{"x":0.967,"y":0.975},{"x":0.972,"y":0.986},{"x":0.963,"y":0.998},{"x":0.976,"y":1.009},{"x":0.969,"y":1.021},{"x":0.974,"y":1.034},{"x":0.961,"y":1.047},{"x":0.979,"y":1.062},{"x":0.966,"y":1.080},{"x":0.971,"y":1.102},{"x":0.964,"y":1.135},
{"x":0.980,"y":0.826},{"x":0.998,"y":0.870},{"x":0.987,"y":0.894},{"x":0.992,"y":0.912},{"x":0.983,"y":0.927},{"x":0.996,"y":0.940},{"x":0.989,"y":0.952},{"x":0.994,"y":0.963},{"x":0.981,"y":0.974},{"x":0.999,"y":0.985},{"x":0.986,"y":0.996},{"x":0.991,"y":1.008},{"x":0.984,"y":1.019},{"x":0.997,"y":1.031},{"x":0.988,"y":1.044},{"x":0.993,"y":1.057},{"x":0.982,"y":1.072},{"x":0.985,"y":1.090},{"x":0.995,"y":1.112},{"x":0.990,"y":1.145},
{"x":1.014,"y":0.836},{"x":1.001,"y":0.880},{"x":1.019,"y":0.904},{"x":1.006,"y":0.922},{"x":1.011,"y":0.937},{"x":1.004,"y":0.950},{"x":1.017,"y":0.962},{"x":1.008,"y":0.973},{"x":1.013,"y":0.984},{"x":1.002,"y":0.995},{"x":1.005,"y":1.006},{"x":1.015,"y":1.018},{"x":1.010,"y":1.029},{"x":1.000,"y":1.041},{"x":1.018,"y":1.054},{"x":1.007,"y":1.067},{"x":1.012,"y":1.082},{"x":1.003,"y":1.100},{"x":1.016,"y":1.122},{"x":1.009,"y":1.155},
{"x":1.028,"y":0.847},{"x":1.033,"y":0.891},{"x":1.022,"y":0.915},{"x":1.025,"y":0.933},{"x":1.035,"y":0.948},{"x":1.030,"y":0.961},{"x":1.020,"y":0.973},{"x":1.038,"y":0.984},{"x":1.027,"y":0.995},{"x":1.032,"y":1.006},{"x":1.023,"y":1.017},{"x":1.036,"y":1.029},{"x":1.029,"y":1.040},{"x":1.034,"y":1.052},{"x":1.021,"y":1.065},{"x":1.039,"y":1.078},{"x":1.026,"y":1.093},{"x":1.031,"y":1.111},{"x":1.024,"y":1.133},{"x":1.037,"y":1.166},
{"x":1.058,"y":0.857},{"x":1.047,"y":0.901},{"x":1.052,"y":0.925},{"x":1.043,"y":0.943},{"x":1.056,"y":0.958},{"x":1.049,"y":0.971},{"x":1.054,"y":0.983},{"x":1.041,"y":0.994},{"x":1.059,"y":1.005},{"x":1.046,"y":1.016},{"x":1.051,"y":1.027},{"x":1.044,"y":1.039},{"x":1.057,"y":1.050},{"x":1.048,"y":1.062},{"x":1.053,"y":1.075},{"x":1.042,"y":1.088},{"x":1.045,"y":1.103},{"x":1.055,"y":1.121},{"x":1.050,"y":1.143},{"x":1.040,"y":1.176},
{"x":1.061,"y":0.868},{"x":1.079,"y":0.912},{"x":1.066,"y":0.936},{"x":1.071,"y":0.954},{"x":1.064,"y":0.969},{"x":1.077,"y":0.982},{"x":1.068,"y":0.994},{"x":1.073,"y":1.005},{"x":1.062,"y":1.016},{"x":1.065,"y":1.027},{"x":1.075,"y":1.038},{"x":1.070,"y":1.050},{"x":1.060,"y":1.061},{"x":1.078,"y":1.073},{"x":1.067,"y":1.086},{"x":1.072,"y":1.099},{"x":1.063,"y":1.114},{"x":1.076,"y":1.132},{"x":1.069,"y":1.154},{"x":1.074,"y":1.187},
{"x":1.093,"y":0.875},{"x":1.082,"y":0.919},{"x":1.085,"y":0.943},{"x":1.095,"y":0.961},{"x":1.090,"y":0.976},{"x":1.080,"y":0.989},{"x":1.098,"y":1.001},{"x":1.087,"y":1.012},{"x":1.092,"y":1.023},{"x":1.083,"y":1.034},{"x":1.096,"y":1.045},{"x":1.089,"y":1.057},{"x":1.094,"y":1.068},{"x":1.081,"y":1.080},{"x":1.099,"y":1.093},{"x":1.086,"y":1.106},{"x":1.091,"y":1.121},{"x":1.084,"y":1.139},{"x":1.097,"y":1.161},{"x":1.088,"y":1.194},
{"x":1.107,"y":0.873},{"x":1.112,"y":0.919},{"x":1.103,"y":0.944},{"x":1.116,"y":0.963},{"x":1.109,"y":0.979},{"x":1.114,"y":0.993},{"x":1.101,"y":1.005},{"x":1.119,"y":1.017},{"x":1.106,"y":1.028},{"x":1.111,"y":1.040},{"x":1.104,"y":1.051},{"x":1.117,"y":1.063},{"x":1.108,"y":1.074},{"x":1.113,"y":1.087},{"x":1.102,"y":1.101},{"x":1.105,"y":1.115},{"x":1.115,"y":1.131},{"x":1.110,"y":1.149},{"x":1.100,"y":1.172},{"x":1.118,"y":1.207},
{"x":1.139,"y":0.878},{"x":1.126,"y":0.924},{"x":1.131,"y":0.949},{"x":1.137,"y":0.984},{"x":1.128,"y":0.998},{"x":1.133,"y":1.010},{"x":1.125,"y":1.033},{"x":1.135,"y":1.045},{"x":1.130,"y":1.056},{"x":1.120,"y":1.068},{"x":1.127,"y":1.092},{"x":1.132,"y":1.106},{"x":1.123,"y":1.120},{"x":1.129,"y":1.154},{"x":1.134,"y":1.177},{"x":1.121,"y":1.212},
{"x":1.142,"y":0.886},{"x":1.145,"y":0.932},{"x":1.150,"y":0.976},{"x":1.140,"y":0.992},{"x":1.158,"y":1.006},{"x":1.152,"y":1.030},{"x":1.143,"y":1.041},{"x":1.149,"y":1.064},{"x":1.154,"y":1.076},{"x":1.159,"y":1.100},{"x":1.146,"y":1.114},{"x":1.144,"y":1.144},{"x":1.148,"y":1.185},{"x":1.153,"y":1.220},
{"x":1.172,"y":0.886},{"x":1.176,"y":0.960},{"x":1.174,"y":0.996},{"x":1.179,"y":1.024},{"x":1.171,"y":1.048},{"x":1.177,"y":1.072},{"x":1.173,"y":1.096},{"x":1.165,"y":1.124},{"x":1.170,"y":1.155},{"x":1.178,"y":1.198},
{"x":1.191,"y":0.938},{"x":1.197,"y":0.984},{"x":1.193,"y":1.015},{"x":1.185,"y":1.040},{"x":1.190,"y":1.064},{"x":1.198,"y":1.088},{"x":1.192,"y":1.113},{"x":1.196,"y":1.142},{"x":1.194,"y":1.178},{"x":1.199,"y":1.238},
{"x":0.785,"y":0.722},{"x":0.795,"y":0.768},{"x":0.790,"y":0.800},{"x":0.780,"y":0.823},{"x":0.798,"y":0.843},{"x":0.787,"y":0.863},{"x":0.792,"y":0.883},{"x":0.783,"y":0.906},{"x":0.796,"y":0.932},{"x":0.789,"y":0.968},{"x":0.794,"y":0.998},{"x":0.782,"y":0.868},
{"x":0.765,"y":0.745},{"x":0.774,"y":0.790},{"x":0.769,"y":0.826},{"x":0.778,"y":0.850},{"x":0.762,"y":0.872},{"x":0.771,"y":0.898},{"x":0.776,"y":0.925},{"x":0.766,"y":0.960},
{"x":0.745,"y":0.760},{"x":0.752,"y":0.812},{"x":0.758,"y":0.838},{"x":0.746,"y":0.858},{"x":0.754,"y":0.888},{"x":0.749,"y":0.915}
],
"bins": [
{"x":0.577,"y":0.698,"lo":0.678,"hi":0.718},{"x":0.625,"y":0.725,"lo":0.713,"hi":0.737},{"x":0.675,"y":0.774,"lo":0.766,"hi":0.782},{"x":0.725,"y":0.830,"lo":0.822,"hi":0.838},{"x":0.774,"y":0.865,"lo":0.858,"hi":0.872},{"x":0.823,"y":0.894,"lo":0.888,"hi":0.900},{"x":0.873,"y":0.944,"lo":0.938,"hi":0.950},{"x":0.922,"y":0.972,"lo":0.967,"hi":0.977},{"x":0.972,"y":0.997,"lo":0.992,"hi":1.002},{"x":1.022,"y":1.023,"lo":1.018,"hi":1.028},{"x":1.072,"y":1.049,"lo":1.043,"hi":1.055},{"x":1.121,"y":1.062,"lo":1.055,"hi":1.069},{"x":1.170,"y":1.081,"lo":1.073,"hi":1.089},{"x":1.220,"y":1.083,"lo":1.074,"hi":1.092},{"x":1.269,"y":1.135,"lo":1.124,"hi":1.146},{"x":1.317,"y":1.149,"lo":1.137,"hi":1.161},{"x":1.368,"y":1.133,"lo":1.117,"hi":1.149},{"x":1.418,"y":1.148,"lo":1.129,"hi":1.166},{"x":1.468,"y":1.147,"lo":1.125,"hi":1.169},{"x":1.518,"y":1.199,"lo":1.163,"hi":1.235},{"x":1.567,"y":1.245,"lo":1.219,"hi":1.273}
],
"fit": [{"x":0.6,"y":0.809},{"x":1.676,"y":1.2954}],
"diag": [{"x":0.575,"y":0.575},{"x":1.563,"y":1.563}]
},
"resolve": {"scale": {"x": "independent", "y": "independent"}},
"layer": [
{
"encoding": {
"x": {"field": "x", "type": "quantitative", "scale": {"domain": [0.5, 1.6855], "nice": false, "zero": false},
 "axis": {"orient": "bottom", "values": [0.5, 1, 1.5], "format": "~g", "grid": false, "domain": true, "domainColor": "#262626", "domainWidth": 2.5, "ticks": true, "tickSize": -17, "tickColor": "#262626", "tickWidth": 2.5, "labelFont": "DejaVu Sans", "labelFontSize": 97, "labelColor": "#262626", "labelBaseline": "alphabetic", "labelPadding": 158, "labelFlush": false, "labelOverlap": false, "title": "T\u00a0\u00a0\u00a0⟨λ\u00a0\u00a0\u00a0\u00a0⟩", "titleFont": "Liberation Sans", "titleFontSize": 115, "titleFontWeight": "normal", "titleColor": "#262626", "titleAlign": "left", "titleBaseline": "alphabetic", "titleAngle": 0, "titleX": 569, "titleY": 302}},
"y": {"field": "y", "type": "quantitative", "scale": {"domain": [0.523, 1.603], "nice": false, "zero": false},
 "axis": {"orient": "left", "values": [0.6, 0.8, 1, 1.2, 1.4, 1.6], "format": "~g", "grid": false, "domain": true, "domainColor": "#262626", "domainWidth": 2.5, "ticks": true, "tickSize": -17, "tickColor": "#262626", "tickWidth": 2.5, "labelFont": "DejaVu Sans", "labelFontSize": 97, "labelColor": "#262626", "labelAlign": "right", "labelBaseline": "middle", "labelPadding": 51, "labelFlush": false, "labelOverlap": false, "title": "l\u00a0\u00a0\u00a0-l", "titleFont": "Liberation Sans", "titleFontSize": 110, "titleFontWeight": "normal", "titleColor": "#262626", "titleAlign": "left", "titleBaseline": "alphabetic", "titleAngle": 270, "titleX": -285, "titleY": 736}}
},
"layer": [
{"data": {"name": "raw"}, "mark": {"type": "point", "filled": true, "size": 30, "opacity": 1, "strokeWidth": 0},
 "encoding": {"color": {"datum": "Raw data", "type": "nominal",
  "scale": {"domain": ["Raw data", "Binned data", "Best fit", "y=x line"], "range": ["#0072BD", "#D95319", "transparent", "transparent"]},
  "legend": {"orient": "none", "legendX": 1031, "legendY": 903, "title": null, "padding": 19, "strokeColor": "#000000", "fillColor": "#ffffff", "cornerRadius": 0, "labelFont": "Liberation Sans", "labelFontSize": 66, "labelColor": "#000000", "labelLimit": 700, "symbolType": "M0.65,0A0.65,0.65,0,1,1,-0.65,0A0.65,0.65,0,1,1,0.65,0Z", "symbolSize": 770, "symbolOffset": 13, "labelOffset": 31, "rowPadding": 21}}}},
{"data": {"name": "bins"}, "mark": {"type": "line", "color": "#D95319", "strokeWidth": 2.5, "strokeDash": [11, 8]}, "encoding": {}},
{"data": {"name": "bins"}, "mark": {"type": "rule", "color": "#D95319", "strokeWidth": 2.5},
 "encoding": {"y": {"field": "lo", "type": "quantitative"}, "y2": {"field": "hi"}}},
{"data": {"name": "bins"}, "mark": {"type": "tick", "orient": "horizontal", "color": "#D95319", "size": 28, "thickness": 2.5},
 "encoding": {"y": {"field": "lo", "type": "quantitative"}}},
{"data": {"name": "bins"}, "mark": {"type": "tick", "orient": "horizontal", "color": "#D95319", "size": 28, "thickness": 2.5},
 "encoding": {"y": {"field": "hi", "type": "quantitative"}}},
{"data": {"name": "bins"}, "mark": {"type": "point", "filled": true, "size": 1156, "stroke": "#3b1d0e", "strokeWidth": 2, "opacity": 1},
 "encoding": {"color": {"datum": "Binned data", "type": "nominal", "legend": null}}},
{"data": {"name": "fit"}, "mark": {"type": "line", "strokeWidth": 7},
 "encoding": {
  "stroke": {"datum": "Best fit", "type": "nominal",
   "scale": {"domain": ["Best fit", "y=x line"], "range": ["#EDB120", "#000000"]},
   "legend": {"orient": "none", "legendX": 1031, "legendY": 1074, "title": null, "padding": 19, "strokeColor": "transparent", "fillColor": "transparent", "cornerRadius": 0, "labelFont": "Liberation Sans", "labelFontSize": 66, "labelColor": "#000000", "labelLimit": 700, "labelExpr": "'\u00a0'", "symbolType": "M-4,0H4", "symbolSize": 770, "symbolStrokeWidth": 7, "symbolOffset": 13, "labelOffset": 31, "rowPadding": 21}},
  "strokeDash": {"datum": "Best fit", "type": "nominal",
   "scale": {"domain": ["Best fit", "y=x line"], "range": [[1, 0], [46, 44]]},
   "legend": {"orient": "none", "legendX": 1031, "legendY": 1074, "title": null, "padding": 19, "strokeColor": "transparent", "fillColor": "transparent", "cornerRadius": 0, "labelFont": "Liberation Sans", "labelFontSize": 66, "labelColor": "#000000", "labelLimit": 700, "labelExpr": "'\u00a0'", "symbolType": "M-4,0H4", "symbolSize": 770, "symbolStrokeWidth": 7, "symbolOffset": 13, "labelOffset": 31, "rowPadding": 21}}
 }}
]
},
{
"data": {"name": "diag"},
"mark": {"type": "line", "strokeWidth": 7.5, "strokeCap": "butt"},
"encoding": {
"x": {"field": "x", "type": "quantitative", "scale": {"domain": [0.5, 1.6855], "nice": false, "zero": false},
 "axis": {"orient": "top", "values": [0.5, 1, 1.5], "grid": false, "domain": true, "domainColor": "#262626", "domainWidth": 2.5, "ticks": true, "tickSize": -17, "tickColor": "#262626", "tickWidth": 2.5, "labelExpr": "datum.value == 0.5 ? 'A' : ''", "labelFont": "Liberation Sans", "labelFontSize": 148, "labelColor": "#000000", "labelAlign": "center", "labelBaseline": "alphabetic", "labelPadding": 224, "labelOffset": -272, "labelFlush": false, "labelOverlap": false, "title": "d\u00a0\u00a0\u00a0\u00a0\u00a0\u00a0\u00a0lin", "titleFont": "Liberation Sans", "titleFontSize": 85, "titleFontWeight": "normal", "titleColor": "#262626", "titleAlign": "left", "titleBaseline": "alphabetic", "titleAngle": 0, "titleX": 640, "titleY": 1634}},
"y": {"field": "y", "type": "quantitative", "scale": {"domain": [0.523, 1.603], "nice": false, "zero": false},
 "axis": {"orient": "right", "values": [0.6, 0.8, 1, 1.2, 1.4, 1.6], "grid": false, "domain": true, "domainColor": "#262626", "domainWidth": 2.5, "ticks": true, "tickSize": -17, "tickColor": "#262626", "tickWidth": 2.5, "labels": false, "title": "d\u00a0\u00a0\u00a0\u00a0\u00a0\u00a0b", "titleFont": "Liberation Sans", "titleFontSize": 85, "titleFontWeight": "normal", "titleColor": "#262626", "titleAlign": "left", "titleBaseline": "alphabetic", "titleAngle": 270, "titleX": -1794, "titleY": 696}},
"stroke": {"datum": "y=x line", "type": "nominal"},
"strokeDash": {"datum": "y=x line", "type": "nominal"}
}
}
]
}
